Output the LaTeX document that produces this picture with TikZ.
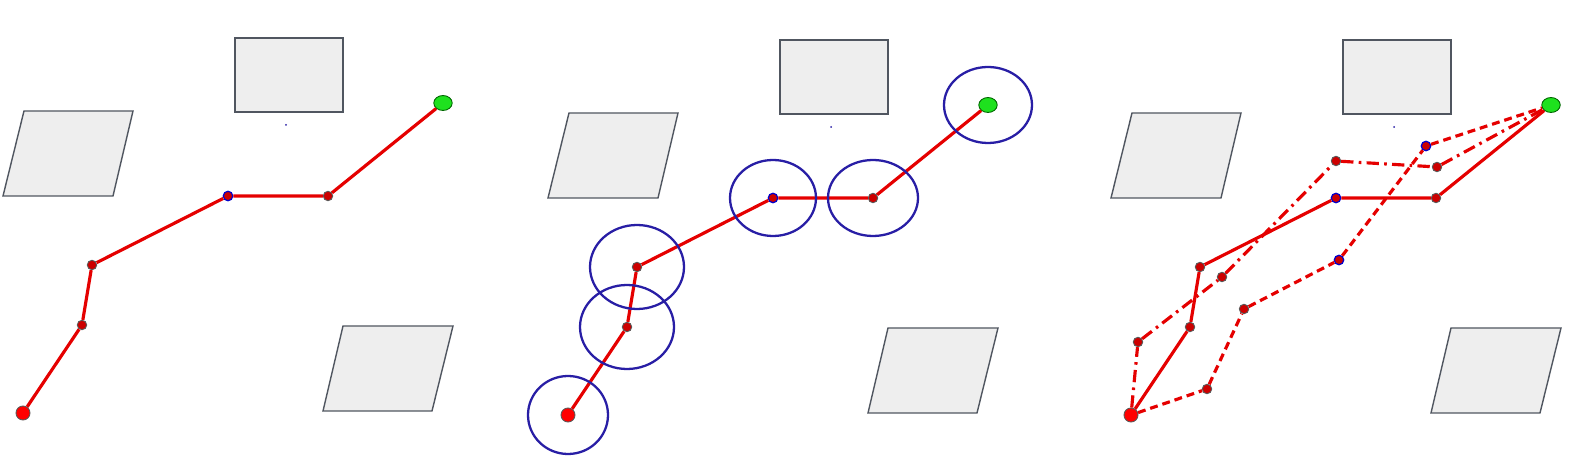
\documentclass[tikz,border=0pt]{standalone}
\usepackage{xcolor}
\usepackage{tikz}
\usetikzlibrary{shapes.geometric, positioning}
\definecolor{zoneblue}{RGB}{40,30,165}
\definecolor{goalgreen}{RGB}{30,225,30}
\definecolor{edgegray}{RGB}{80,86,96}
\tikzset{
    route/.style={draw=red!90!black, line width=1.8pt},
    wp/.style={circle, inner sep=0pt, minimum size=5.4pt, fill=red!80!black, draw=black!65, line width=0.5pt},
    wpblue/.style={wp, draw=blue!80!black, line width=0.7pt},
    startpt/.style={wp, minimum size=8pt, fill=red},
    goalpt/.style={ellipse, inner sep=0pt, minimum width=10.5pt, minimum height=8.5pt, fill=goalgreen, draw=green!40!black, line width=0.5pt},
    obst/.style={fill=gray!13, draw=edgegray, line width=0.8pt},
    zone/.style={draw=zoneblue, line width=1.3pt}
}
\def\scene#1#2#3{
    \begin{scope}[shift={(#1,#2)}]
        %Obstacles
        \draw[obst] (235,38) rectangle (343,112);
        \fill[zoneblue] (286,125) circle (1);
        \draw[obst] (24,111) -- (133,111) -- (113,196) -- (3,196) -- cycle;
        \draw[obst] (343,326) -- (453,326) -- (432,411) -- (323,411) -- cycle;
        %Waypoints
        \node[startpt] (#3s) at (23,413) {};
        \node[wp] (#3a) at (82,325) {};
        \node[wp] (#3b) at (92,265) {};
        \node[wpblue] (#3c) at (228,196) {};
        \node[wp] (#3d) at (328,196) {};
        \node[goalpt] (#3g) at (443,103) {};
        %Route
        \draw[route] (#3s) -- (#3a) -- (#3b) -- (#3c) -- (#3d) -- (#3g);
    \end{scope}
}
\begin{document}
\begin{tikzpicture}[x=0.02cm, y=-0.02cm]
        \useasboundingbox (0,0) rectangle (1573,462);

        \scene{0}{0}{p}
        \scene{545}{2}{q}
        \scene{1108}{2}{r}

        % Search zones round the waypoints
        \foreach \n/\rx/\ry in {s/40/39, a/47/42, b/47/42, c/43/38, d/45/38, g/44/38}
            \draw[zone] (q\n) ellipse [x radius=\rx, y radius=\ry];

        % Alternative routes
        \node[wp] (k1) at (1138,342) {};
        \node[wp] (k2) at (1222,277) {};
        \node[wp] (k3) at (1336,161) {};
        \node[wp] (k4) at (1437,167) {};
        \draw[route, dash pattern=on 7pt off 3pt on 1.5pt off 3pt] (rs) -- (k1) -- (k2) -- (k3) -- (k4) -- (rg);

        \node[wp] (m1) at (1207,389) {};
        \node[wp] (m2) at (1244,309) {};
        \node[wpblue] (m3) at (1339,260) {};
        \node[wpblue] (m4) at (1426,146) {};
        \draw[route, dash pattern=on 4.5pt off 2.8pt] (rs) -- (m1) -- (m2) -- (m3) -- (m4) -- (rg);
    \end{tikzpicture}
\end{document}
